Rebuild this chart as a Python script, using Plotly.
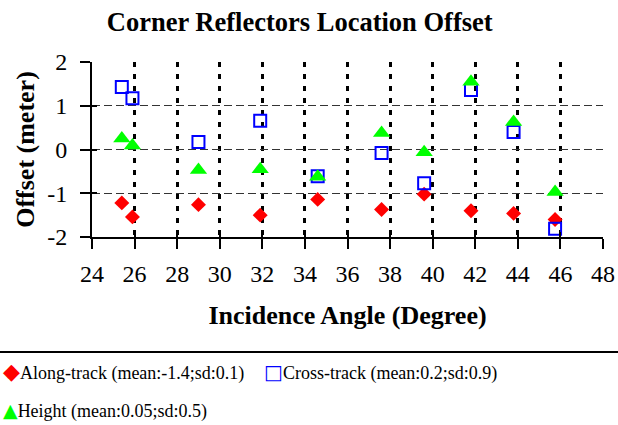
import plotly.graph_objects as go

# ---- data ----
incidence = [25.4, 25.9, 29.0, 31.9, 34.6, 37.6, 39.6, 41.8, 43.8, 45.75]
along_track = [-1.22, -1.54, -1.26, -1.50, -1.14, -1.37, -1.02, -1.40, -1.46, -1.60]
cross_track = [1.43, 1.17, 0.17, 0.66, -0.61, -0.08, -0.77, 1.36, 0.40, -1.81]
height_off = [0.25, 0.09, -0.47, -0.45, -0.62, 0.38, -0.06, 1.55, 0.63, -0.97]

series_names = [
    "Along-track (mean:-1.4;sd:0.1)",
    "Cross-track (mean:0.2;sd:0.9)",
    "Height (mean:0.05;sd:0.5)",
]
x_ticks = [24, 26, 28, 30, 32, 34, 36, 38, 40, 42, 44, 46, 48]
y_ticks = [-2, -1, 0, 1, 2]

FONT = "Liberation Serif, Times New Roman, serif"
RED = "#ff0000"
BLUE = "#0000ff"
GREEN = "#00ff00"

fig = go.Figure()
fig.add_trace(go.Scatter(
    x=incidence, y=along_track, mode="markers", name=series_names[0],
    marker=dict(symbol="diamond", size=11.5, color=RED, line=dict(width=0)),
    showlegend=False, cliponaxis=False,
))
fig.add_trace(go.Scatter(
    x=incidence, y=cross_track, mode="markers", name=series_names[1],
    marker=dict(symbol="square-open", size=12, color=BLUE, line=dict(width=2, color=BLUE)),
    showlegend=False, cliponaxis=False,
))
fig.add_trace(go.Scatter(
    x=incidence, y=height_off, mode="markers", name=series_names[2],
    marker=dict(symbol="triangle-up", size=15, color=GREEN, line=dict(width=0)),
    showlegend=False, cliponaxis=False,
))

axis_common = dict(showline=True, linecolor="black", linewidth=2, zeroline=False,
                   automargin=False,
                   ticks="outside", ticklen=10, tickwidth=2, tickcolor="black",
                   tickfont=dict(family=FONT, size=24, color="black"))

fig.update_layout(
    template="none",
    width=618, height=425,
    margin=dict(l=92, r=15, t=62, b=188, autoexpand=False),
    plot_bgcolor="white", paper_bgcolor="white",
    title=dict(text="<b>Corner Reflectors Location Offset</b>", x=0.485, xanchor="center",
               y=0.948, yanchor="middle",
               font=dict(family=FONT, size=26.5, color="black")),
    xaxis=dict(range=[24, 48], tickvals=x_ticks, ticktext=[str(v) for v in x_ticks],
               showgrid=True, gridcolor="black", gridwidth=3, griddash="5px,7px",
               ticklabelstandoff=4,
               title=dict(text="<b>Incidence Angle (Degree)</b>", standoff=20,
                          font=dict(family=FONT, size=26, color="black")),
               **axis_common),
    yaxis=dict(range=[-2, 2], tickvals=y_ticks, ticktext=[str(v) for v in y_ticks],
               showgrid=True, gridcolor="#333333", gridwidth=1, griddash="8px,4px",
               ticklabelstandoff=8,
               title=dict(text="<b>Offset (meter)</b>", standoff=5,
                          font=dict(family=FONT, size=26, color="black")),
               **axis_common),
    # overlay axes giving the inside half of the crossing tick marks
    xaxis2=dict(overlaying="x", matches="x", range=[24, 48], tickvals=x_ticks, ticks="inside",
                ticklen=5, tickwidth=2, tickcolor="black", showticklabels=False,
                showgrid=False, zeroline=False, showline=False, automargin=False),
    yaxis2=dict(overlaying="y", matches="y", range=[-2, 2], tickvals=y_ticks, ticks="inside",
                ticklen=5, tickwidth=2, tickcolor="black", showticklabels=False,
                showgrid=False, zeroline=False, showline=False, automargin=False),
    showlegend=False,
)
# invisible trace to activate the overlay axes
fig.add_trace(go.Scatter(x=[incidence[0]], y=[along_track[0]], xaxis="x2", yaxis="y2",
                         mode="markers", marker=dict(opacity=0), hoverinfo="skip",
                         showlegend=False))

# legend box top border
fig.add_shape(type="line", xref="paper", yref="paper",
              x0=-0.2, x1=1.05, y0=-0.657, y1=-0.657,
              line=dict(color="black", width=2))

# legend entries as text
legend_items = [
    (series_names[0], "◆", 22, RED, -0.178, -0.77),
    (series_names[1], "□", 20, BLUE, 0.332, -0.77),
    (series_names[2], "▲", 19, GREEN, -0.178, -0.99),
]
for name, glyph, gsize, col, lx, ly in legend_items:
    fig.add_annotation(
        xref="paper", yref="paper", x=lx, y=ly, xanchor="left", yanchor="middle",
        showarrow=False,
        text=(f"<span style='color:{col};font-family:DejaVu Sans;font-size:{gsize}px'>"
              f"{glyph}</span>{name}"),
        font=dict(family=FONT, size=18, color="black"),
    )

fig.write_html("out.html", config={"displayModeBar": False},
               post_script="document.body.style.margin='0px';")
